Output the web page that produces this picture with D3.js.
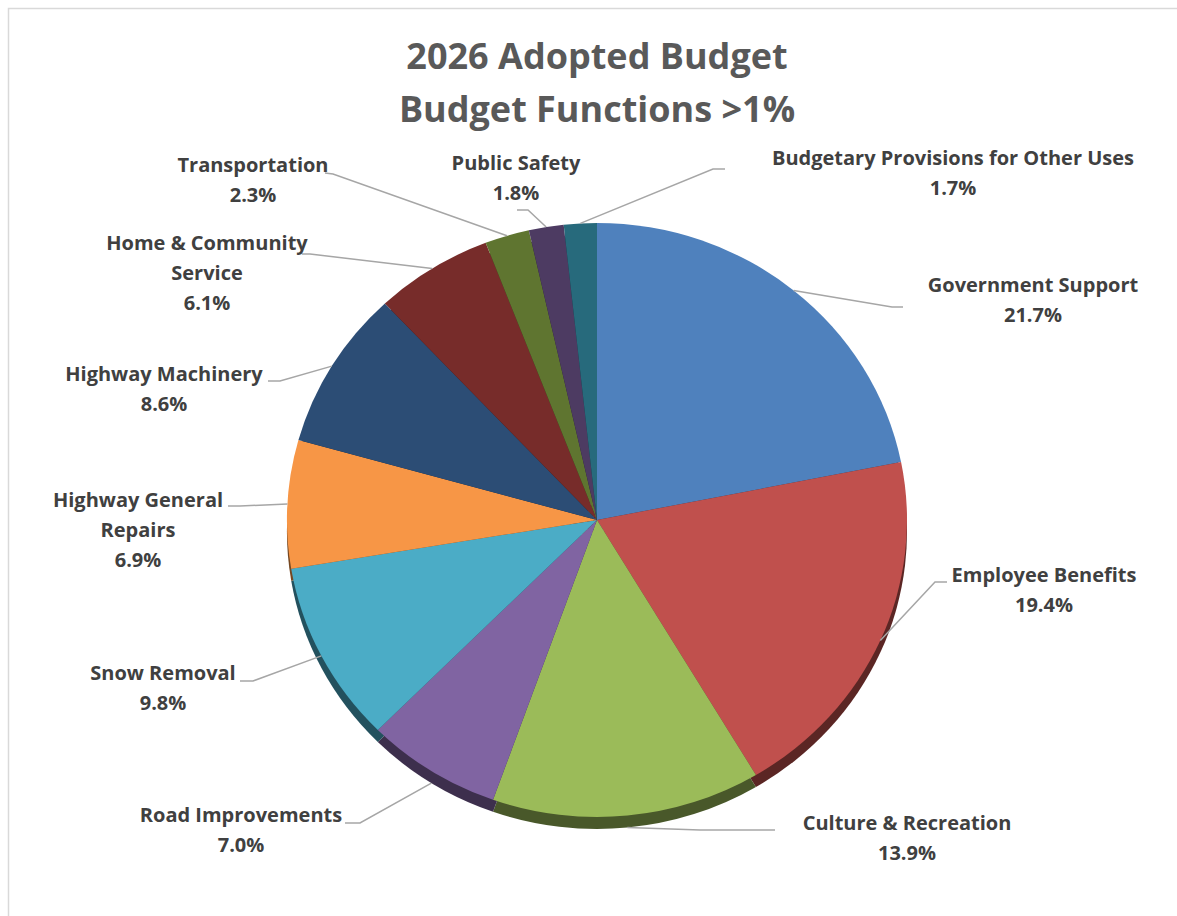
<!DOCTYPE html>
<html>
<head>
  <title>2026 Adopted Budget</title>
  <script src="https://cdn.jsdelivr.net/npm/d3@7"></script>
  <style>
    body { margin: 0; background: #fff; font-family: "Open Sans", Lato, sans-serif; }
    .label { font-size: 20px; font-weight: 700; fill: #404040; }
    .title { font-size: 36px; font-weight: 700; fill: #595959; }
    .leader { fill: none; stroke: #a6a6a6; stroke-width: 1.5; }
  </style>
</head>
<body>
  <div id="chart"></div>
  <script>
    const titleLines = ["2026 Adopted Budget", "Budget Functions >1%"];
    const categories = [
      "Government Support", "Employee Benefits", "Culture & Recreation",
      "Road Improvements", "Snow Removal", "Highway General Repairs",
      "Highway Machinery", "Home & Community Service", "Transportation",
      "Public Safety", "Budgetary Provisions for Other Uses"
    ];
    const shares = [21.7, 19.4, 13.9, 7.0, 9.8, 6.9, 8.6, 6.1, 2.3, 1.8, 1.7];
    const colors = [
      "#4f81bd", "#c0504d", "#9bbb59", "#8064a2", "#4bacc6", "#f79646",
      "#2c4d75", "#772c2a", "#5f7530", "#4d3b62", "#276a7c"
    ];

    // label placement: text centre x / first baseline, leader elbow and end
    const labelLayout = [
      { at: [1033, 292], elbow: [892, 307], end: [903, 307] },
      { at: [1044, 582], elbow: [935, 582], end: [947, 582] },
      { at: [907, 830],  elbow: [700, 830], end: [775, 830] },
      { at: [241, 822],  elbow: [360, 823], end: [345, 823] },
      { at: [163, 680],  elbow: [253, 681], end: [240, 681] },
      { at: [138, 507],  elbow: [240, 506], end: [228, 506], wrap: 2 },
      { at: [164, 381],  elbow: [280, 381], end: [268, 381] },
      { at: [207, 250],  elbow: [310, 254], end: [302, 254], wrap: 3 },
      { at: [253, 172],  elbow: [333, 174], end: [325, 173] },
      { at: [516, 170],  elbow: [528, 210], end: [517, 210] },
      { at: [953, 165],  elbow: [713, 169], end: [725, 169] }
    ];

    const W = 1177, H = 916;
    const cx = 597, cy = 520, rx = 310, ry = 297, depth = 12;
    const lineStep = 30;

    const svg = d3.select("#chart").append("svg")
      .attr("width", W).attr("height", H);

    svg.append("rect")
      .attr("x", 8.5).attr("y", 8.5)
      .attr("width", 1300).attr("height", 1100)
      .attr("fill", "#fff").attr("stroke", "#d9d9d9").attr("stroke-width", 1.5);

    svg.selectAll("text.title")
      .data(titleLines)
      .join("text")
        .attr("class", "title")
        .attr("x", cx)
        .attr("y", (d, i) => 69 + i * 53)
        .attr("text-anchor", "middle")
        .text(d => d);

    const pie = d3.pie().sort(null).value(d => d);
    const arcs = pie(shares);
    const arc = d3.arc().innerRadius(0).outerRadius(rx);

    // 3D side: darker copy pushed down
    svg.append("g")
        .attr("transform", `translate(${cx},${cy + depth}) scale(1,${ry / rx})`)
      .selectAll("path")
      .data(arcs)
      .join("path")
        .attr("d", arc)
        .attr("fill", (d, i) => d3.color(colors[i]).darker(2.1));

    svg.append("g")
        .attr("transform", `translate(${cx},${cy}) scale(1,${ry / rx})`)
      .selectAll("path")
      .data(arcs)
      .join("path")
        .attr("d", arc)
        .attr("fill", (d, i) => colors[i]);

    // leader lines
    const edgePoint = d => {
      const a = (d.startAngle + d.endAngle) / 2;
      const c = Math.cos(a);
      return [cx + rx * Math.sin(a), cy - ry * c + (c < -0.7 ? depth : 0)];
    };

    svg.selectAll("path.leader")
      .data(arcs)
      .join("path")
        .attr("class", "leader")
        .attr("d", (d, i) => d3.line()([edgePoint(d), labelLayout[i].elbow, labelLayout[i].end]));

    // labels
    const labels = svg.selectAll("text.label")
      .data(arcs)
      .join("text")
        .attr("class", "label")
        .attr("text-anchor", "middle");

    labels.each(function (d, i) {
      const lay = labelLayout[i];
      const words = categories[i].split(" ");
      const lines = lay.wrap
        ? [words.slice(0, lay.wrap).join(" "), words.slice(lay.wrap).join(" ")]
        : [categories[i]];
      lines.push(shares[i].toFixed(1) + "%");
      d3.select(this).selectAll("tspan")
        .data(lines)
        .join("tspan")
          .attr("x", lay.at[0])
          .attr("y", (t, k) => lay.at[1] + k * lineStep)
          .text(t => t);
    });
  </script>
</body>
</html>
